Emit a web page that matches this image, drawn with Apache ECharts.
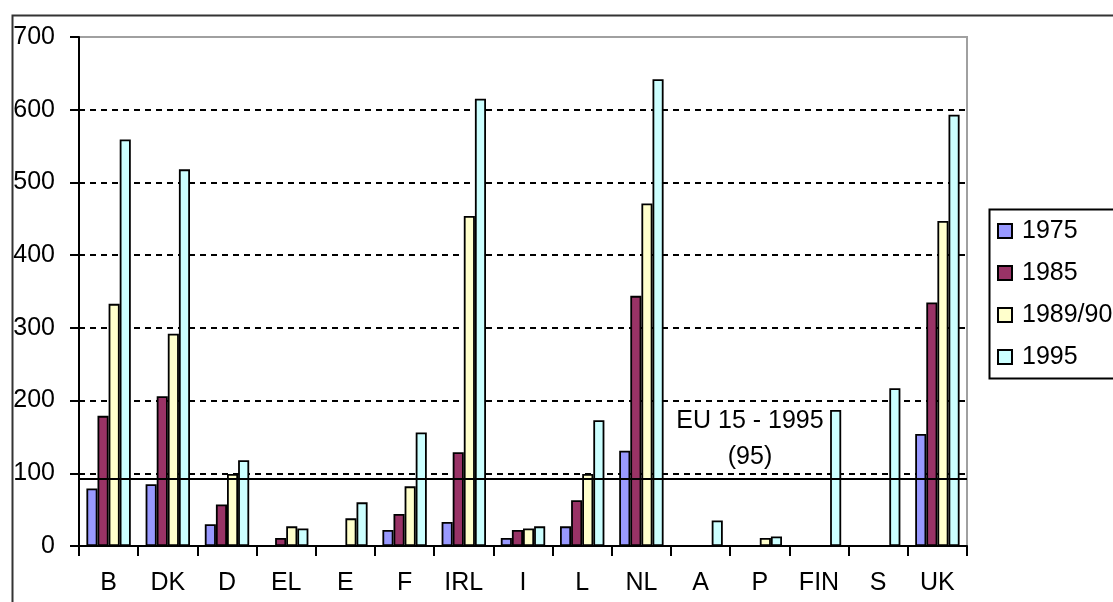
<!DOCTYPE html>
<html>
<head>
<meta charset="utf-8">
<script src="https://cdn.jsdelivr.net/npm/echarts@6/dist/echarts.min.js"></script>
<style>
html,body{margin:0;padding:0;background:#fff;}
#chart{width:1113px;height:602px;}
</style>
</head>
<body>
<div id="chart"></div>
<script>
var categories = ['B','DK','D','EL','E','F','IRL','I','L','NL','A','P','FIN','S','UK'];
var seriesNames = ['1975','1985','1989/90','1995'];
var v1975   = [79, 85, 30, null, null, 22, 33, 11, 27, 131, null, null, null, null, 154];
var v1985   = [179, 206, 57, 11, null, 44, 129, 22, 63, 344, null, null, null, null, 335];
var v1989   = [333, 292, 99, 27, 38, 82, 454, 24, 99, 471, null, 11, null, null, 447];
var v1995   = [559, 518, 118, 24, 60, 156, 615, 27, 173, 642, 35, 13, 187, 217, 593];
var yTicks = [0, 100, 200, 300, 400, 500, 600, 700];
var euAverageLine = 92;
var euLabel = ['EU 15 - 1995', '(95)'];
var colors = ['#9999FF', '#993366', '#FFFFCC', '#CCFFFF'];

var FONT = '"Liberation Sans", Arial, sans-serif';
var FS = 25;
var chart = echarts.init(document.getElementById('chart'), null, {renderer: 'canvas'});
var allData = [v1975, v1985, v1989, v1995];

var series = seriesNames.map(function (name, i) {
  var s = {
    name: name,
    type: 'bar',
    data: allData[i],
    barGap: '0%',
    barCategoryGap: '25%',
    itemStyle: {color: colors[i], borderColor: '#000', borderWidth: 1.8},
    emphasis: {disabled: true},
    animation: false
  };
  if (i === 3) {
    s.markLine = {
      silent: true,
      symbol: 'none',
      label: {show: false},
      lineStyle: {color: '#000', type: 'solid', width: 2},
      data: [{yAxis: euAverageLine}],
      animation: false
    };
  }
  return s;
});

chart.setOption({
  backgroundColor: '#fff',
  animation: false,
  textStyle: {fontFamily: FONT},
  grid: {
    left: 79, top: 37, right: 146, bottom: 56,
    show: true, borderColor: '#a0a0a0', borderWidth: 2, backgroundColor: 'transparent'
  },
  legend: {
    orient: 'vertical',
    left: 997, top: 217,
    itemWidth: 14, itemHeight: 14,
    itemGap: 14,
    padding: 0,
    icon: 'rect',
    textStyle: {fontSize: FS, color: '#000', fontFamily: FONT, lineHeight: 28, padding: [0, 0, 0, 5]},
    data: seriesNames
  },
  xAxis: {
    type: 'category',
    data: categories,
    axisLine: {lineStyle: {color: '#000', width: 2}},
    axisTick: {show: true, length: 10, lineStyle: {color: '#000', width: 2}},
    axisLabel: {color: '#000', fontSize: FS, fontFamily: FONT, margin: 25},
    splitLine: {show: false}
  },
  yAxis: {
    type: 'value',
    min: yTicks[0], max: yTicks[yTicks.length - 1], interval: 100,
    axisLine: {show: true, lineStyle: {color: '#000', width: 2}},
    axisTick: {show: true, length: 9, lineStyle: {color: '#000', width: 2}},
    axisLabel: {color: '#000', fontSize: FS, fontFamily: FONT, margin: 24},
    splitLine: {show: true, showMinLine: false, showMaxLine: false, lineStyle: {color: '#000', type: [6, 5], width: 2}}
  },
  graphic: [
    {type: 'rect', left: 10, top: 13, shape: {x: 0, y: 0, width: 1200, height: 700},
     style: {fill: 'none', stroke: '#333', lineWidth: 2}, silent: true, z: -1},
    {type: 'rect', left: 987, top: 207, shape: {x: 0, y: 0, width: 200, height: 169},
     style: {fill: 'none', stroke: '#000', lineWidth: 2}, silent: true},
    {type: 'text', position: [750, 409],
     style: {text: euLabel[0], font: FS + 'px ' + FONT, fill: '#000', textAlign: 'center'}, silent: true},
    {type: 'text', position: [750, 445],
     style: {text: euLabel[1], font: FS + 'px ' + FONT, fill: '#000', textAlign: 'center'}, silent: true}
  ],
  series: series
});
</script>
</body>
</html>
